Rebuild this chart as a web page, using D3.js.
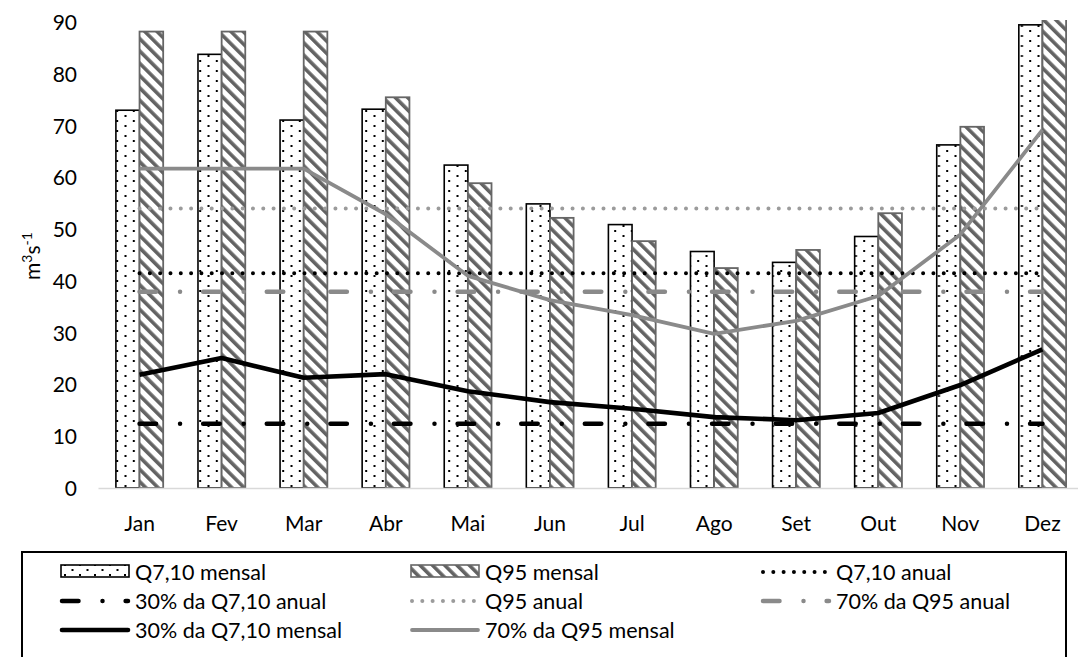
<!DOCTYPE html>
<html>
<head>
<meta charset="utf-8">
<script src="https://cdn.jsdelivr.net/npm/d3@7"></script>
<style>
  html, body { margin: 0; padding: 0; background: #fff; }
  svg { display: block; }
  text { font-family: Lato, "Open Sans", sans-serif; fill: #000; }
</style>
</head>
<body>
<svg id="chart" width="1078" height="657"></svg>
<script>
// ---------- data ----------
const months = ["Jan","Fev","Mar","Abr","Mai","Jun","Jul","Ago","Set","Out","Nov","Dez"];
const q710Mensal = [73.0, 83.8, 71.1, 73.2, 62.4, 54.9, 50.9, 45.7, 43.6, 48.6, 66.3, 89.5];
const q95Mensal  = [88.2, 88.2, 88.2, 75.5, 58.9, 52.2, 47.7, 42.5, 46.0, 53.1, 69.8, 98.8];
const pct30Q710Mensal = [21.9, 25.1, 21.3, 22.0, 18.7, 16.6, 15.3, 13.7, 13.1, 14.5, 19.9, 26.8];
const pct70Q95Mensal  = [61.7, 61.7, 61.7, 52.9, 41.0, 36.3, 33.4, 29.8, 32.3, 37.1, 49.0, 69.2];
const q710Anual = 41.5;
const pct30Q710Anual = 12.4;
const q95Anual = 54.0;
const pct70Q95Anual = 37.9;
const yTicks = [0,10,20,30,40,50,60,70,80,90];
const legendLabels = ["Q7,10 mensal","Q95 mensal","Q7,10 anual","30% da Q7,10 anual","Q95 anual","70% da Q95 anual","30% da Q7,10 mensal","70% da Q95 mensal"];

// ---------- setup ----------
const svg = d3.select("#chart");
const W = 1078, H = 657;
const FS = 21;

const x = d3.scaleBand().domain(months).range([98.5, 1083.5]).padding(0);
const x1 = d3.scaleBand().domain(["q710","q95"]).range([0, x.bandwidth()]).paddingInner(0).paddingOuter(0.736);
const y = d3.scaleLinear().domain([0, 90]).range([488, 22.25]);
const cx = m => x(m) + x.bandwidth() / 2;

const defs = svg.append("defs");
// dotted pattern
const pd = defs.append("pattern").attr("id","dots").attr("patternUnits","userSpaceOnUse")
  .attr("width",16.6).attr("height",10);
pd.append("rect").attr("width",16.6).attr("height",10).attr("fill","#fff");
pd.append("rect").attr("x",0).attr("y",0).attr("width",2).attr("height",2).attr("fill","#000");
pd.append("rect").attr("x",8.3).attr("y",5).attr("width",2).attr("height",2).attr("fill","#000");
// legend dotted pattern
const pdl = defs.append("pattern").attr("id","dotsLeg").attr("patternUnits","userSpaceOnUse")
  .attr("width",15).attr("height",10).attr("x",64).attr("y",564);
pdl.append("rect").attr("width",15).attr("height",10).attr("fill","#fff");
pdl.append("rect").attr("x",0).attr("y",0).attr("width",2).attr("height",2).attr("fill","#000");
pdl.append("rect").attr("x",7.5).attr("y",5).attr("width",2).attr("height",2).attr("fill","#000");
// hatch pattern
const ph = defs.append("pattern").attr("id","hatch").attr("patternUnits","userSpaceOnUse")
  .attr("width",8.7).attr("height",8.7).attr("patternTransform","rotate(-45)");
ph.append("rect").attr("width",8.7).attr("height",8.7).attr("fill","#fff");
ph.append("rect").attr("x",0).attr("y",0).attr("width",3.6).attr("height",8.7).attr("fill","#636363");

defs.append("clipPath").attr("id","plotClip").append("rect")
  .attr("x",0).attr("y",20).attr("width",W).attr("height",488-20);

// ---------- bars ----------
const barG = svg.append("g").attr("clip-path","url(#plotClip)");
barG.selectAll("rect.q710").data(months).join("rect").attr("class","q710")
  .attr("x", (m) => x(m) + x1("q710"))
  .attr("y", (m,i) => y(q710Mensal[i]))
  .attr("width", x1.bandwidth())
  .attr("height", (m,i) => y(0) - y(q710Mensal[i]))
  .attr("fill","url(#dots)").attr("stroke","#000").attr("stroke-width",1.6);
barG.selectAll("rect.q95").data(months).join("rect").attr("class","q95")
  .attr("x", (m) => x(m) + x1("q95"))
  .attr("y", (m,i) => y(q95Mensal[i]))
  .attr("width", x1.bandwidth())
  .attr("height", (m,i) => y(0) - y(q95Mensal[i]))
  .attr("fill","url(#hatch)").attr("stroke","#666").attr("stroke-width",1.8);

// ---------- axes ----------
svg.append("line").attr("x1",98.5).attr("x2",W).attr("y1",488.5).attr("y2",488.5)
  .attr("stroke","#d9d9d9").attr("stroke-width",1.3);

const yAxis = d3.axisLeft(y).tickValues(yTicks).tickSize(0).tickPadding(0);
const yg = svg.append("g").attr("transform","translate(77,0)").call(yAxis);
yg.select(".domain").remove();
yg.selectAll("text").attr("font-size",FS).attr("font-family","Lato").attr("fill","#000").attr("dy","0.35em");

const xAxis = d3.axisBottom(x).tickSize(0).tickPadding(0);
const xg = svg.append("g").attr("transform","translate(0,515)").call(xAxis);
xg.select(".domain").remove();
xg.selectAll("text").attr("font-size",FS).attr("font-family","Lato").attr("fill","#000").attr("dy","0.35em").attr("y",9);

// y label
const yl = svg.append("text").attr("transform","translate(40,256) rotate(-90)")
  .attr("text-anchor","middle").attr("font-size",FS);
yl.append("tspan").text("m");
yl.append("tspan").attr("font-size",14).attr("dy",-8).text("3");
yl.append("tspan").attr("dy",8).text("s");
yl.append("tspan").attr("font-size",14).attr("dy",-8).text("-1");

// ---------- reference lines ----------
const x0 = cx(months[0]), xN = cx(months[months.length-1]);
const DASHDOT = "16.5,24,0.01,23.1";
const DOTS = "0.01,10.3";
function hline(v, color, width, dash) {
  svg.append("line").attr("x1",x0).attr("x2",xN).attr("y1",y(v)).attr("y2",y(v))
    .attr("stroke",color).attr("stroke-width",width).attr("stroke-dasharray",dash)
    .attr("stroke-linecap","round");
}
hline(q95Anual, "#9b9b9b", 4, DOTS);
hline(q710Anual, "#000", 4, DOTS);
hline(pct70Q95Anual, "#8a8a8a", 4.5, DASHDOT);
hline(pct30Q710Anual, "#000", 4.5, DASHDOT);

const line = d3.line().x((d,i) => cx(months[i])).y(d => y(d));
svg.append("path").datum(pct70Q95Mensal).attr("d",line).attr("fill","none")
  .attr("stroke","#8a8a8a").attr("stroke-width",3.8).attr("stroke-linejoin","round");
svg.append("path").datum(pct30Q710Mensal).attr("d",line).attr("fill","none")
  .attr("stroke","#000").attr("stroke-width",4.6).attr("stroke-linejoin","round");

// ---------- legend ----------
const lg = svg.append("g");
lg.append("rect").attr("x",22).attr("y",552).attr("width",1044).attr("height",200)
  .attr("fill","none").attr("stroke","#000").attr("stroke-width",2);
const colX = [60, 410, 761];
const rowY = [572, 601, 630];
const items = [
  {type:"bar", fill:"url(#dotsLeg)", stroke:"#000"},
  {type:"bar", fill:"url(#hatch)", stroke:"#666"},
  {type:"line", color:"#000", w:4, dash:DOTS},
  {type:"line", color:"#000", w:4.5, dash:DASHDOT},
  {type:"line", color:"#9b9b9b", w:4, dash:DOTS},
  {type:"line", color:"#8a8a8a", w:4.5, dash:DASHDOT},
  {type:"line", color:"#000", w:4.6, dash:null},
  {type:"line", color:"#8a8a8a", w:3.8, dash:null}
];
items.forEach((it, i) => {
  const cxl = colX[i % 3], ry = rowY[Math.floor(i / 3)];
  if (it.type === "bar") {
    lg.append("rect").attr("x",cxl+1).attr("y",ry-7).attr("width",68).attr("height",12)
      .attr("fill",it.fill).attr("stroke",it.stroke).attr("stroke-width",1.6);
  } else {
    lg.append("line").attr("x1",cxl+2).attr("x2",cxl+68).attr("y1",ry).attr("y2",ry)
      .attr("stroke",it.color).attr("stroke-width",it.w)
      .attr("stroke-dasharray",it.dash).attr("stroke-linecap","round");
  }
  lg.append("text").attr("x",cxl+75).attr("y",ry).attr("dy","0.35em")
    .attr("font-size",21.5).text(legendLabels[i]);
});
</script>
</body>
</html>
